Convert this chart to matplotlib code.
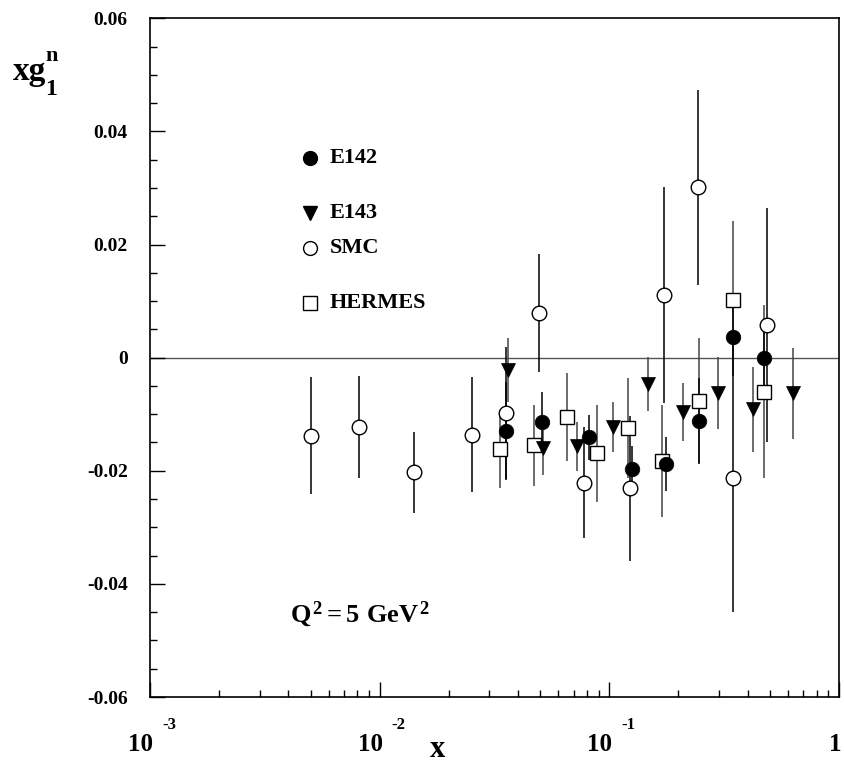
import matplotlib
matplotlib.use("Agg")
import matplotlib.pyplot as plt
from matplotlib.transforms import ScaledTranslation
import numpy as np

plt.rcParams['font.family'] = ['Liberation Serif', 'DejaVu Serif']
plt.rcParams['font.weight'] = 'bold'
plt.rcParams['mathtext.fontset'] = 'custom'
plt.rcParams['mathtext.rm'] = 'Liberation Serif:bold'
plt.rcParams['mathtext.it'] = 'Liberation Serif:bold'
plt.rcParams['mathtext.bf'] = 'Liberation Serif:bold'

# ---------------- data ----------------
e142_x = [0.0354, 0.0507, 0.0818, 0.125, 0.176, 0.246, 0.345, 0.471]
e142_y = [-0.0130, -0.0114, -0.0141, -0.0196, -0.0188, -0.0112, 0.0037, 0.0000]
e142_err = [0.0087, 0.0053, 0.0040, 0.0040, 0.0047, 0.0076, 0.0070, 0.0060]

e143_x = [0.0363, 0.0516, 0.0721, 0.104, 0.148, 0.2085, 0.298, 0.423, 0.631]
e143_y = [-0.0022, -0.0160, -0.0157, -0.0122, -0.0047, -0.0096, -0.0063, -0.0091, -0.0063]
e143_err = [0.0056, 0.0047, 0.0043, 0.0044, 0.0048, 0.0052, 0.0064, 0.0075, 0.0080]

smc_x = [0.0050, 0.0081, 0.0141, 0.0252, 0.0354, 0.0494, 0.0775, 0.1233, 0.1734, 0.2438, 0.3463, 0.484]
smc_y = [-0.0138, -0.0122, -0.0203, -0.0136, -0.0098, 0.0079, -0.0221, -0.0231, 0.0111, 0.0301, -0.0213, 0.0058]
smc_err = [0.0103, 0.0090, 0.0072, 0.0102, 0.0117, 0.0104, 0.0098, 0.0128, 0.0191, 0.0173, 0.0236, 0.0207]

hermes_x = [0.0334, 0.0471, 0.0656, 0.088, 0.1202, 0.169, 0.246, 0.3463, 0.471]
hermes_y = [-0.0162, -0.0155, -0.0105, -0.0169, -0.0124, -0.0183, -0.0076, 0.0102, -0.0060]
hermes_err = [0.0069, 0.0072, 0.0077, 0.0086, 0.0088, 0.0099, 0.0110, 0.0140, 0.0153]

legend_labels = ['E142', 'E143', 'SMC', 'HERMES']
ytick_vals = [-0.06, -0.04, -0.02, 0.0, 0.02, 0.04, 0.06]
ytick_labels = ['-0.06', '-0.04', '-0.02', '0', '0.02', '0.04', '0.06']
xdecades = [1e-3, 1e-2, 1e-1, 1.0]
xdecade_exps = ['-3', '-2', '-1', None]

# ---------------- figure ----------------
W, H = 844, 764
fig = plt.figure(figsize=(W / 100, H / 100), dpi=100)
ax = fig.add_axes([150 / W, (H - 697) / H, 689 / W, 678.7 / H])
ax.set_xscale('log')
ax.set_xlim(1e-3, 1)
ax.set_ylim(-0.06, 0.06)

for s in ax.spines.values():
    s.set_linewidth(1.2)
    s.set_color('black')

ax.axhline(0, color='#555555', lw=1.0, zorder=1)

ms = 10.5
eb_kw = dict(linestyle='none', elinewidth=1.1, capsize=0, zorder=3)
ax.errorbar(smc_x, smc_y, yerr=smc_err, fmt='o', ms=ms, mfc='white', mec='black',
            mew=1.0, ecolor='black', **eb_kw)
ax.errorbar(hermes_x, hermes_y, yerr=hermes_err, fmt='s', ms=ms * 0.95, mfc='white', mec='black',
            mew=1.0, ecolor='#444444', **eb_kw)
ax.errorbar(e143_x, e143_y, yerr=e143_err, fmt='v', ms=ms * 0.95, mfc='black', mec='black',
            mew=0.5, ecolor='#444444', **eb_kw)
ax.errorbar(e142_x, e142_y, yerr=e142_err, fmt='o', ms=ms, mfc='black', mec='black',
            mew=0.5, ecolor='black', **eb_kw)

# ticks
ax.set_yticks(ytick_vals)
ax.set_yticklabels(ytick_labels, fontsize=14, fontweight='bold')
ax.set_yticks(np.arange(-0.06, 0.0601, 0.005), minor=True)
ax.tick_params(axis='y', which='major', direction='in', length=11, width=1.0, pad=16,
               left=True, right=False)
ax.tick_params(axis='y', which='minor', direction='in', length=5, width=1.0,
               left=True, right=False)
ax.set_xticks(xdecades)
ax.set_xticks([m * d for d in [1e-3, 1e-2, 1e-1] for m in range(2, 10)], minor=True)
ax.set_xticklabels([])
ax.set_xticklabels([], minor=True)
ax.tick_params(axis='x', which='major', direction='in', length=11, width=1.0,
               bottom=True, top=False)
ax.tick_params(axis='x', which='minor', direction='in', length=5, width=1.0,
               bottom=True, top=False)

# custom x tick labels (10 with superscript exponent)
xt = ax.get_xaxis_transform()
for d, e in zip(xdecades, xdecade_exps):
    if e is None:
        ax.text(d, 0, '1', transform=xt + ScaledTranslation(-4 / 100, -54 / 100, fig.dpi_scale_trans),
                ha='center', va='baseline', fontsize=18, fontweight='bold', clip_on=False)
    else:
        ax.text(d, 0, '10', transform=xt + ScaledTranslation(3 / 100, -54 / 100, fig.dpi_scale_trans),
                ha='right', va='baseline', fontsize=18, fontweight='bold', clip_on=False)
        ax.text(d, 0, e, transform=xt + ScaledTranslation(12 / 100, -32 / 100, fig.dpi_scale_trans),
                ha='left', va='baseline', fontsize=12, fontweight='bold', clip_on=False)

# axis titles
fig.text(437 / W, 1 - 757 / H, 'x', ha='center', va='baseline', fontsize=22, fontweight='bold')
fig.text(13 / W, 1 - 80 / H, 'xg', ha='left', va='baseline', fontsize=24, fontweight='bold')
fig.text(45 / W, 1 - 61 / H, 'n', ha='left', va='baseline', fontsize=16, fontweight='bold')
fig.text(45 / W, 1 - 95 / H, '1', ha='left', va='baseline', fontsize=17, fontweight='bold')

# legend (manual)
leg_y = [158, 213, 248, 303]
leg_style = [dict(marker='o', mfc='black', mec='black'),
             dict(marker='v', mfc='black', mec='black'),
             dict(marker='o', mfc='white', mec='black'),
             dict(marker='s', mfc='white', mec='black')]
for lab, py, st in zip(legend_labels, leg_y, leg_style):
    fig.lines.append(plt.Line2D([310 / W], [1 - py / H], transform=fig.transFigure,
                                ms=ms * 0.95, mew=1.0, ls='none', **st))
    fig.text(330 / W, 1 - py / H, lab, ha='left', va='center', fontsize=16, fontweight='bold')

fig.text(290 / W, 1 - 622 / H, r'$Q^2 = 5\ GeV^2$', ha='left', va='baseline', fontsize=19)

fig.savefig('out.png', dpi=100)
